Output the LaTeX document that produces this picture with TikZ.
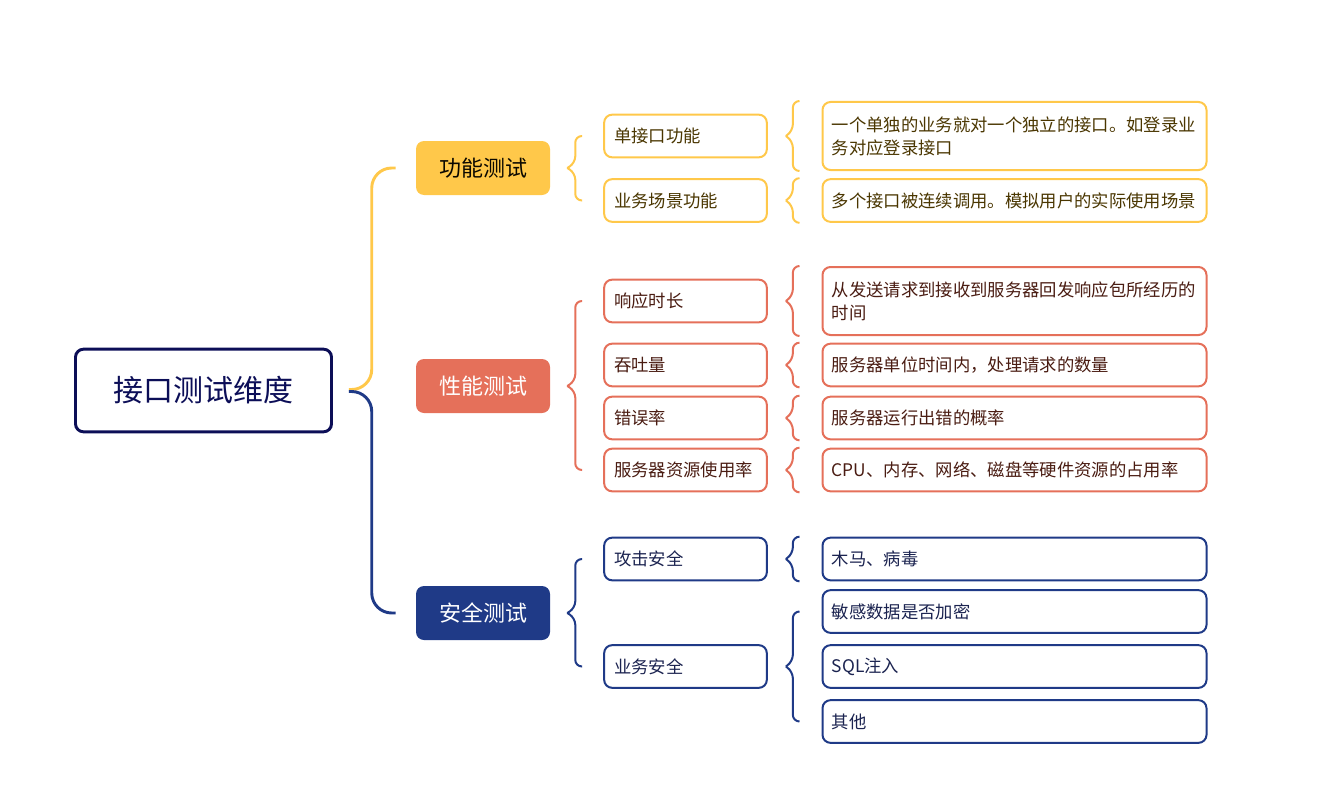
\documentclass[tikz,border=0pt]{standalone}
\usepackage{fontspec}
\setmainfont{Noto Sans CJK SC}
\usetikzlibrary{calc}
\definecolor{rootblue}{HTML}{0C0E57}
\definecolor{gnyellow}{HTML}{FFC84A}
\definecolor{gntext}{HTML}{4A3600}
\definecolor{xnred}{HTML}{E5705A}
\definecolor{xntext}{HTML}{4A1C12}
\definecolor{aqblue}{HTML}{1F3A87}
\definecolor{aqtext}{HTML}{1B2350}
\begin{document}
\begin{tikzpicture}[x=0.75pt,y=-0.75pt,
		root/.style={draw=rootblue,line width=2.2pt,rounded corners=6pt,minimum width=192pt,minimum height=62pt,text=rootblue,font=\fontsize{22.5pt}{27pt}\selectfont},
		topic/.style={rounded corners=6pt,minimum width=100.5pt,minimum height=40.5pt,font=\fontsize{16.5pt}{20pt}\selectfont},
		sub/.style={draw,fill=white,line width=1.5pt,rounded corners=6pt,text width=107pt,inner xsep=7.5pt,minimum height=32pt,align=left,font=\fontsize{13pt}{17.25pt}\selectfont},
		leaf/.style={sub,text width=274pt,inner xsep=7pt},
		yel/.style={draw=gnyellow,text=gntext},
		red/.style={draw=xnred,text=xntext},
		blu/.style={draw=aqblue,text=aqtext},
		brace/.style={line width=1.5pt,rounded corners=5pt},
		link/.style={line width=2.2pt,rounded corners=15pt}]
		\useasboundingbox (0,0) rectangle (1335,792);
		
		\node (root) at (203.5,390.5) [root] {接口测试维度};
		
		\node (gn) at (483,168) [topic,fill=gnyellow,text=black!85!gntext] {功能测试};
		\node (xn) at (483,386) [topic,fill=xnred,text=white] {性能测试};
		\node (aq) at (483,613) [topic,fill=aqblue,text=white] {安全测试};
		
		\node (gn1) at (685.5,136) [sub,yel] {单接口功能};
		\node (gn2) at (685.5,200.5) [sub,yel] {业务场景功能};
		\node (xn1) at (685.5,301) [sub,red] {响应时长};
		\node (xn2) at (685.5,365) [sub,red] {吞吐量};
		\node (xn3) at (685.5,418) [sub,red] {错误率};
		\node (xn4) at (685.5,470) [sub,red] {服务器资源使用率};
		\node (aq1) at (685.5,559) [sub,blu] {攻击安全};
		\node (aq2) at (685.5,666.5) [sub,blu] {业务安全};
		
		\node (gn1a) at (1014.5,136) [leaf,yel,minimum height=51pt] {一个单独的业务就对一个独立的接口。如登录业\\务对应登录接口};
		\node (gn2a) at (1014.5,200.5) [leaf,yel] {多个接口被连续调用。模拟用户的实际使用场景};
		\node (xn1a) at (1014.5,301) [leaf,red,minimum height=51pt] {从发送请求到接收到服务器回发响应包所经历的\\时间};
		\node (xn2a) at (1014.5,365) [leaf,red] {服务器单位时间内，处理请求的数量};
		\node (xn3a) at (1014.5,418) [leaf,red] {服务器运行出错的概率};
		\node (xn4a) at (1014.5,470) [leaf,red] {CPU、内存、网络、磁盘等硬件资源的占用率};
		\node (aq1a) at (1014.5,559) [leaf,blu] {木马、病毒};
		\node (aq2a) at (1014.5,611.5) [leaf,blu] {敏感数据是否加密};
		\node (aq2b) at (1014.5,666.5) [leaf,blu] {SQL注入};
		\node (aq2c) at (1014.5,721.5) [leaf,blu] {其他};
		
		% root to topics
		\draw[link,gnyellow] ($(root.east)+(16,-1)$) -| ($(gn.west)+(-44,0)$) -- ($(gn.west)+(-20,0)$);
		\draw[link,aqblue] ($(root.east)+(16,1)$) -| ($(aq.west)+(-44,0)$) -- ($(aq.west)+(-20,0)$);
		
		% topics to subtopics
		\draw[brace,gnyellow] ($(gn.east)+(17,0)$) -- ++(8,-5) |- ($(gn1.west)+(-21,0)$);
		\draw[brace,gnyellow] ($(gn.east)+(17,0)$) -- ++(8,5) |- ($(gn2.west)+(-21,0)$);
		\draw[brace,xnred] ($(xn.east)+(17,0)$) -- ++(8,-5) |- ($(xn1.west)+(-21,0)$);
		\draw[brace,xnred] ($(xn.east)+(17,0)$) -- ++(8,5) |- ($(xn4.west)+(-21,0)$);
		\draw[brace,aqblue] ($(aq.east)+(17,0)$) -- ++(8,-5) |- ($(aq1.west)+(-21,0)$);
		\draw[brace,aqblue] ($(aq.east)+(17,0)$) -- ++(8,5) |- ($(aq2.west)+(-21,0)$);
		
		% subtopics to details
		\draw[brace,gnyellow] ($(gn1.east)+(18,0)$) -- ++(7,-5) |- ($(gn1a.north west)+(-22,0)$);
		\draw[brace,gnyellow] ($(gn1.east)+(18,0)$) -- ++(7,5) |- ($(gn1a.south west)+(-22,0)$);
		\draw[brace,gnyellow] ($(gn2.east)+(18,0)$) -- ++(7,-5) |- ($(gn2a.north west)+(-22,0)$);
		\draw[brace,gnyellow] ($(gn2.east)+(18,0)$) -- ++(7,5) |- ($(gn2a.south west)+(-22,0)$);
		\draw[brace,xnred] ($(xn1.east)+(18,0)$) -- ++(7,-5) |- ($(xn1a.north west)+(-22,0)$);
		\draw[brace,xnred] ($(xn1.east)+(18,0)$) -- ++(7,5) |- ($(xn1a.south west)+(-22,0)$);
		\draw[brace,xnred] ($(xn2.east)+(18,0)$) -- ++(7,-5) |- ($(xn2a.north west)+(-22,0)$);
		\draw[brace,xnred] ($(xn2.east)+(18,0)$) -- ++(7,5) |- ($(xn2a.south west)+(-22,0)$);
		\draw[brace,xnred] ($(xn3.east)+(18,0)$) -- ++(7,-5) |- ($(xn3a.north west)+(-22,0)$);
		\draw[brace,xnred] ($(xn3.east)+(18,0)$) -- ++(7,5) |- ($(xn3a.south west)+(-22,0)$);
		\draw[brace,xnred] ($(xn4.east)+(18,0)$) -- ++(7,-5) |- ($(xn4a.north west)+(-22,0)$);
		\draw[brace,xnred] ($(xn4.east)+(18,0)$) -- ++(7,5) |- ($(xn4a.south west)+(-22,0)$);
		\draw[brace,aqblue] ($(aq1.east)+(18,0)$) -- ++(7,-5) |- ($(aq1a.north west)+(-22,0)$);
		\draw[brace,aqblue] ($(aq1.east)+(18,0)$) -- ++(7,5) |- ($(aq1a.south west)+(-22,0)$);
		\draw[brace,aqblue] ($(aq2.east)+(18,0)$) -- ++(7,-5) |- ($(aq2a.west)+(-22,0)$);
		\draw[brace,aqblue] ($(aq2.east)+(18,0)$) -- ++(7,5) |- ($(aq2c.west)+(-22,0)$);
	\end{tikzpicture}
\end{document}
